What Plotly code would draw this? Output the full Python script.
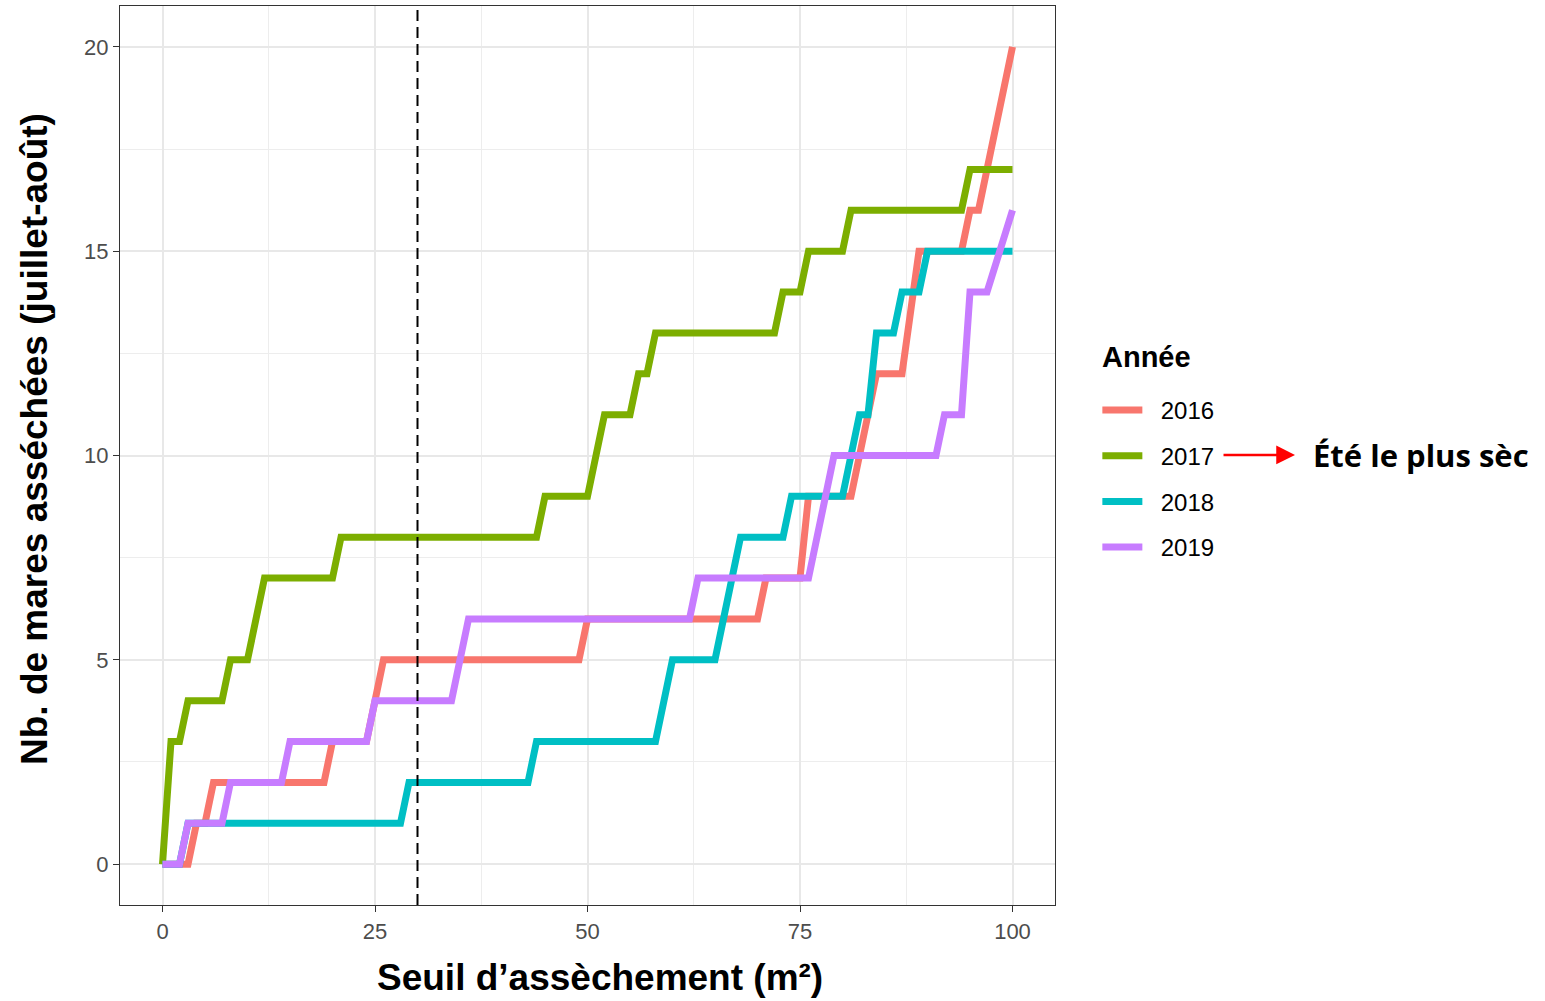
import plotly.graph_objects as go

# ---------------- data ----------------
years = ["2016", "2017", "2018", "2019"]
colors = ["#F8766D", "#7CAE00", "#00BFC4", "#C77CFF"]

x_2016 = [0, 3, 4, 5, 6, 19, 20, 24, 25, 26, 49, 50, 70, 71, 75, 76, 81, 84, 87, 89, 94, 95, 96, 100]
y_2016 = [0, 0, 1, 1, 2, 2, 3, 3, 4, 5, 5, 6, 6, 7, 7, 9, 9, 12, 12, 15, 15, 16, 16, 20]

x_2017 = [0, 1, 2, 3, 7, 8, 10, 12, 20, 21, 44, 45, 50, 52, 55, 56, 57, 58, 72, 73, 75, 76, 80, 81, 94, 95, 100]
y_2017 = [0, 3, 3, 4, 4, 5, 5, 7, 7, 8, 8, 9, 9, 11, 11, 12, 12, 13, 13, 14, 14, 15, 15, 16, 16, 17, 17]

x_2018 = [0, 2, 3, 28, 29, 43, 44, 58, 60, 65, 68, 73, 74, 80, 82, 83, 84, 86, 87, 89, 90, 100]
y_2018 = [0, 0, 1, 1, 2, 2, 3, 3, 5, 5, 8, 8, 9, 9, 11, 11, 13, 13, 14, 14, 15, 15]

x_2019 = [0, 2, 3, 7, 8, 14, 15, 24, 25, 34, 36, 62, 63, 76, 79, 91, 92, 94, 95, 97, 100]
y_2019 = [0, 0, 1, 1, 2, 2, 3, 3, 4, 4, 6, 6, 7, 7, 10, 10, 11, 11, 14, 14, 16]

threshold = 30
x_ticks = [0, 25, 50, 75, 100]
y_ticks = [0, 5, 10, 15, 20]
x_minor = [12.5, 37.5, 62.5, 87.5]
y_minor = [2.5, 7.5, 12.5, 17.5]

x_title = "Seuil d’assèchement (m²)"
y_title = "Nb. de mares asséchées (juillet-août)"
legend_title = "Année"
note_text = "Été le plus sèc"

series_x = [x_2016, x_2017, x_2018, x_2019]
series_y = [y_2016, y_2017, y_2018, y_2019]

FONT = "Arial, Liberation Sans, sans-serif"
NBSP = "\u00a0\u00a0"  # spacing between legend key and label

fig = go.Figure()
for name, col, xs, ys in zip(years, colors, series_x, series_y):
    fig.add_trace(go.Scatter(
        x=xs, y=ys, mode="lines", name=NBSP + name, legendgroup=name,
        line=dict(color=col, width=7),
    ))

fig.add_vline(x=threshold, line=dict(color="black", width=2, dash="11px,6px"))

axis_common = dict(
    showgrid=True, gridcolor="#E8E8E8", gridwidth=1.5,
    zeroline=False, showline=True, mirror=True,
    linecolor="#333333", linewidth=1.3,
    ticks="outside", ticklen=6, tickwidth=1.3, tickcolor="#333333",
    tickfont=dict(family=FONT, size=22, color="#4D4D4D"),
)

fig.update_xaxes(
    range=[-5, 105], tickvals=x_ticks,
    minor=dict(tickvals=x_minor, showgrid=True, gridcolor="#EDEDED", gridwidth=1.1),
    **axis_common,
)
fig.update_yaxes(
    range=[-1, 21], tickvals=y_ticks,
    minor=dict(tickvals=y_minor, showgrid=True, gridcolor="#EDEDED", gridwidth=1.1),
    **axis_common,
)

fig.update_layout(
    width=1545, height=1001,
    margin=dict(l=120, r=490, t=6, b=96, autoexpand=False),
    plot_bgcolor="white", paper_bgcolor="white",
    font=dict(family=FONT),
    showlegend=True,
    legend=dict(
        x=1.0453, xanchor="left", y=0.5752, yanchor="top",
        font=dict(family=FONT, size=24, color="black"),
        traceorder="grouped", tracegroupgap=11.5, itemwidth=40,
        bgcolor="rgba(0,0,0,0)",
    ),
    annotations=[
        dict(xref="paper", yref="paper", x=0.5134, y=-0.0812, xanchor="center", yanchor="middle",
             text=x_title, showarrow=False,
             font=dict(family=FONT, size=37, color="black", weight="bold")),
        dict(xref="paper", yref="paper", x=-0.0909, y=0.5184, xanchor="center", yanchor="middle",
             text=y_title, showarrow=False, textangle=-90,
             font=dict(family=FONT, size=37, color="black", weight="bold")),
        dict(xref="paper", yref="paper", x=(1100 - 120) / 935, y=0.6096, xanchor="left", yanchor="middle",
             text=legend_title, showarrow=False,
             font=dict(family=FONT, size=29, color="black", weight="bold")),
        dict(xref="paper", yref="paper", x=1.2567, y=0.5006, text="",
             showarrow=True, ax=-73, ay=0, axref="pixel", ayref="pixel",
             arrowhead=2, arrowsize=1.5, arrowwidth=2.5, arrowcolor="#FF0000"),
        dict(xref="paper", yref="paper", x=1.2738, y=0.5006, xanchor="left", yanchor="middle",
             text=note_text, showarrow=False,
             font=dict(family="Open Sans, Noto Sans, sans-serif", size=31, color="black", weight="bold")),
    ],
)

fig.write_html("out.html")
